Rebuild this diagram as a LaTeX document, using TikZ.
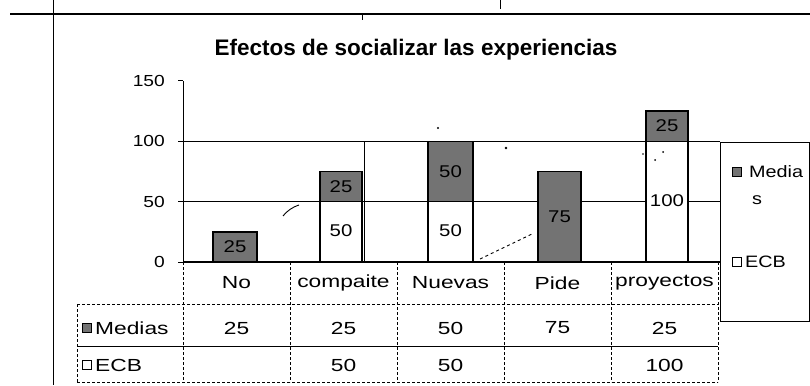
\documentclass[tikz,border=0pt]{standalone}
\usepackage{fontspec}
\setmainfont{Liberation Sans}
\newfontfamily\wideF[FakeStretch=1.3]{Liberation Sans}
\newfontfamily\axF[FakeStretch=1.2]{Liberation Sans}
\begin{document}
\begin{tikzpicture}[x=1pt,y=-1pt,
  titlestyle/.style={font=\bfseries\fontsize{22.5}{25}\selectfont,inner sep=0pt},
  axlabel/.style={font=\axF\fontsize{16}{18}\selectfont,anchor=east,inner sep=0pt},
  cattext/.style={font=\wideF\fontsize{17.5}{20}\selectfont,inner sep=0pt},
  legtext/.style={font=\axF\fontsize{16.5}{19}\selectfont,inner sep=0pt,anchor=west},
  valtext/.style={font=\axF\fontsize{17}{20}\selectfont,inner sep=0pt},
  medbar/.style={draw=black,line width=1.4pt,fill=black!55},
  ecbbar/.style={draw=black,line width=1.1pt,fill=white},
  gridln/.style={line width=1.2pt},
  tline/.style={line width=0.8pt,densely dashed},
  tsolid/.style={line width=1pt},
  legmark/.style={draw=black,line width=1pt,minimum size=9pt,inner sep=0pt},
  noise/.style={line width=0.9pt},
]
\useasboundingbox (0,0) rectangle (810,385);
\fill[white] (0,0) rectangle (810,385);
% page frame lines
\coordinate (tl) at (10,14); \coordinate (tr) at (810,14);
\draw[line width=1.2pt] (tl) -- (tr);
\coordinate (vt) at (53,0); \coordinate (vb) at (53,385);
\draw[line width=1pt] (vt) -- (vb);
\coordinate (k1a) at (500,0); \coordinate (k1b) at (500,9);
\draw[line width=0.8pt] (k1a) -- (k1b);
\coordinate (k2a) at (362,14); \coordinate (k2b) at (362,20);
\draw[line width=0.8pt] (k2a) -- (k2b);

% title
\node[titlestyle] (title) at (416,50) {Efectos de socializar las experiencias};

% axis
\coordinate (a150) at (183,81); \coordinate (a0) at (183,262);
\draw[line width=1pt] (a150) -- (a0);
\foreach \v/\yy in {150/81,100/141.3,50/201.6,0/262}{
  \coordinate (t\v) at (178,\yy); \coordinate (u\v) at (183,\yy);
  \draw[line width=1pt] (t\v) -- (u\v);
  \node[axlabel] (yl\v) at (165,\yy) {\v};
}
% gridlines
\coordinate (g100a) at (183,141.3); \coordinate (g100b) at (720,141.3);
\coordinate (g50a) at (183,201.6); \coordinate (g50b) at (720,201.6);
\coordinate (g0b) at (720,262);
\draw[gridln] (g100a) -- (g100b);
\draw[gridln] (g50a) -- (g50b);
\draw[gridln] (a0) -- (g0b);

% bars
% No
\draw[medbar] (213,262) rectangle (257,231.8);
\node[valtext] (v1m) at (235,247) {25};
% comparte
\draw[ecbbar] (320,262) rectangle (362,201.6);
\draw[medbar] (320,201.6) rectangle (362,171.5);
\node[valtext] (v2e) at (341,231) {50};
\node[valtext] (v2m) at (341,186.5) {25};
% Nuevas
\draw[ecbbar] (428,262) rectangle (473,201.6);
\draw[medbar] (428,201.6) rectangle (473,141.3);
\node[valtext] (v3e) at (450.5,231) {50};
\node[valtext] (v3m) at (450.5,171.5) {50};
% Pide
\draw[medbar] (538,262) rectangle (581,171.5);
\node[valtext] (v4m) at (559.5,216.5) {75};
% proyectos
\draw[ecbbar] (646,262) rectangle (688,141.3);
\draw[medbar] (646,141.3) rectangle (688,111);
\node[valtext] (v5e) at (667,201) {100};
\node[valtext] (v5m) at (667,126) {25};

% stray scan marks
\coordinate (s1) at (283,216); \coordinate (s2) at (299,205);
\draw[noise] (s1) to[bend left=15] (s2);
\coordinate (d1) at (480,259); \coordinate (d2) at (532,234);
\draw[noise,dashed] (d1) -- (d2);
\coordinate (l1) at (364,141.3); \coordinate (l2) at (364,262);
\draw[line width=0.8pt] (l1) -- (l2);
\fill (506,148) circle (1.3pt);
\fill (438,128) circle (1.1pt);
\fill (663,152) circle (1pt);
\fill (655,160) circle (1pt);
\fill (643,154) circle (0.8pt);

% legend
\draw[line width=1pt] (720,142) rectangle (809,321);
\node[legmark,fill=black!55] (lm) at (737,172) {};
\node[legtext] (lmt) at (749,172) {Media};
\node[legtext] (lmt2) at (752,200) {s};
\node[legmark,fill=white] (le) at (737,262) {};
\node[legtext] (let) at (745,262) {ECB};

% data table
\foreach \x in {183,290,397,504,611,718}{
  \coordinate (ct\x) at (\x,262); \coordinate (cb\x) at (\x,382);
  \draw[tline] (ct\x) -- (cb\x);
}
\coordinate (rl1) at (77,304); \coordinate (rr1) at (718,304);
\coordinate (rl2) at (77,346); \coordinate (rr2) at (718,346);
\coordinate (rl3) at (77,382); \coordinate (rr3) at (718,382);
\draw[tline] (rl1) -- (rr1);
\draw[tsolid] (rl2) -- (rr2);
\draw[tline] (rl3) -- (rr3);
\draw[tline] (rl1) -- (rl3);

\foreach \c/\t [count=\i] in {236.5/No,343.5/compaite,450.5/Nuevas,557.5/Pide,664.5/proyectos}{
  \node[cattext] (cat\i) at (\c,283) {\t};
}
\node[legmark,fill=black!55] (tm) at (87,328) {};
\node[cattext,anchor=west] (tmt) at (95,328) {Medias};
\node[legmark,fill=white] (te) at (87,365) {};
\node[cattext,anchor=west] (tet) at (95,365) {ECB};
\foreach \c/\t [count=\i] in {236.5/25,343.5/25,450.5/50,557.5/75,664.5/25}{
  \node[cattext] (m\i) at (\c,328) {\t};
}
\foreach \c/\t [count=\i] in {343.5/50,450.5/50,664.5/100}{
  \node[cattext] (e\i) at (\c,365) {\t};
}
\end{tikzpicture}
\end{document}
